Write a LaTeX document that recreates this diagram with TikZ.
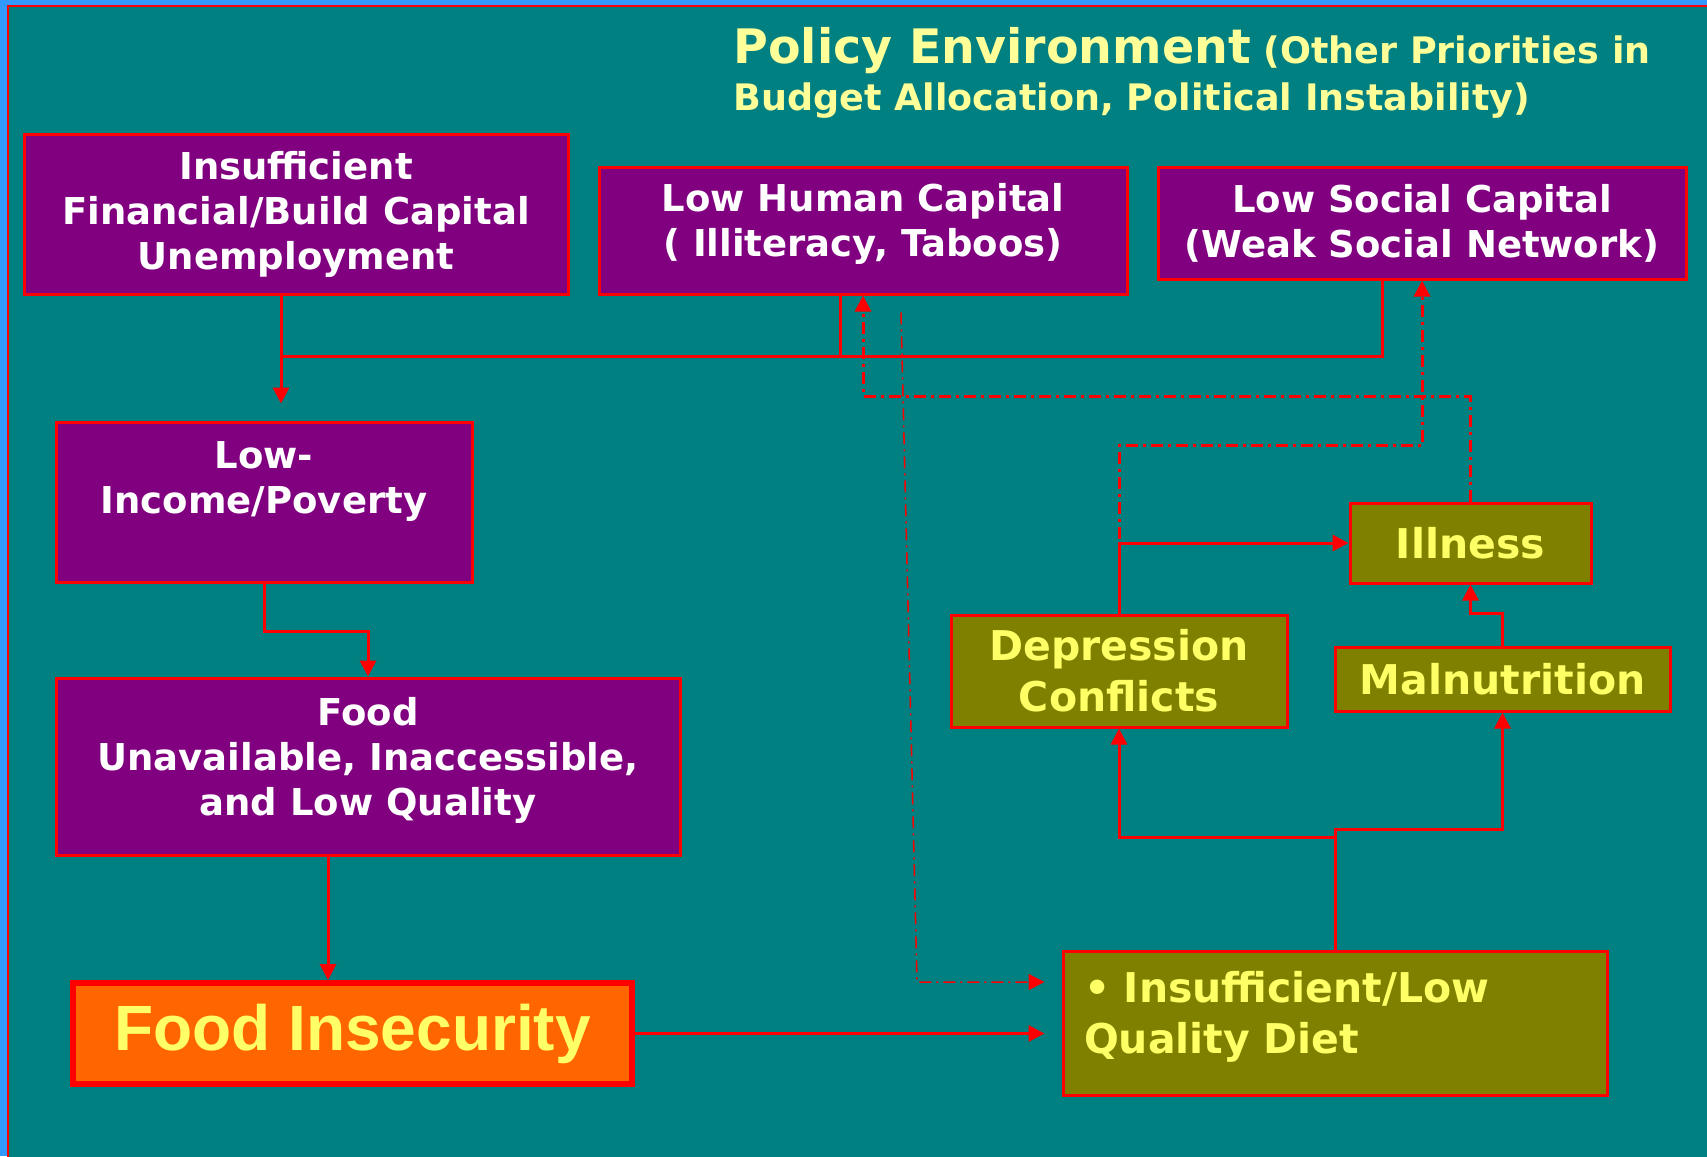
\documentclass[tikz,border=0pt]{standalone}
\usepackage{fontspec}
\setmainfont{DejaVu Sans}
\newfontfamily\arialfont{Liberation Sans}
\usetikzlibrary{arrows.meta}

\definecolor{slideblue}{HTML}{3399FF}
\definecolor{slideteal}{HTML}{008080}
\definecolor{boxpurple}{HTML}{800080}
\definecolor{boxolive}{HTML}{808000}
\definecolor{boxorange}{HTML}{FF6600}
\definecolor{titleyellow}{HTML}{FFFF99}
\definecolor{textyellow}{HTML}{FFFF66}

\begin{document}
\begin{tikzpicture}[x=1pt, y=-1pt,
                    box/.style={draw=red, line width=3pt, inner sep=0pt, align=center},
                    purplebox/.style={box, fill=boxpurple, text=white,
                                      font=\bfseries\fontsize{37}{45}\selectfont},
                    olivebox/.style={box, fill=boxolive, text=textyellow,
                                     font=\bfseries\fontsize{41}{51}\selectfont},
                    conn/.style={draw=red, line width=3pt, -{Triangle[length=16pt,width=16pt]}},
                    plainconn/.style={draw=red, line width=3pt},
                    dashconn/.style={conn, dash pattern=on 12pt off 5pt on 3pt off 5pt},
                    thinconn/.style={conn, line width=1.5pt, dash pattern=on 12pt off 5pt on 2pt off 5pt}]
  \useasboundingbox (0,0) rectangle (1707,1156);
  \fill[slideblue] (0,0) rectangle (1707,1156);
  \filldraw[fill=slideteal, draw=red, line width=2pt] (8,6) rectangle (1720,1170);

  % title
  \node[anchor=base west, align=left, text=titleyellow,
        font=\bfseries\fontsize{36.5}{47}\selectfont] (title) at (730,110)
    {{\fontsize{47.5}{47}\selectfont Policy Environment} (Other Priorities in\\Budget Allocation, Political Instability)};

  % causes
  \node[purplebox, minimum width=544, minimum height=160] (finance) at (296,214)
    {Insufficient\\Financial/Build Capital\\Unemployment};
  \node[purplebox, minimum width=528, minimum height=127] (human) at (863,230.5)
    {Low Human Capital\\( Illiteracy, Taboos)\\[-24pt]\mbox{}};
  \node[purplebox, minimum width=528, minimum height=112] (social) at (1422,223)
    {Low Social Capital\\(Weak Social Network)};
  \node[purplebox, minimum width=416, minimum height=160] (income) at (264,502)
    {Low-\\Income/Poverty\\[4pt]\mbox{}};
  \node[purplebox, minimum width=624, minimum height=177] (food) at (368,766.5)
    {Food\\Unavailable, Inaccessible,\\and Low Quality\\[-24pt]\mbox{}};
  \node[box, line width=6pt, fill=boxorange, text=textyellow, minimum width=559, minimum height=101,
        font=\arialfont\bfseries\fontsize{64}{70}\selectfont] (insecurity) at (352.5,1033.5)
    {Food Insecurity};

  % consequences
  \node[olivebox, minimum width=544, minimum height=144, text width=502, align=left, inner xsep=21pt] (diet) at (1335,1023)
    {• Insufficient/Low\\Quality Diet\\[-30pt]\mbox{}};
  \node[olivebox, minimum width=336, minimum height=112] (depression) at (1119,671)
    {Depression\\Conflicts};
  \node[olivebox, minimum width=335, minimum height=64] (malnutrition) at (1502.5,679)
    {Malnutrition};
  \node[olivebox, minimum width=241, minimum height=80] (illness) at (1470.5,543)
    {Illness};

  % solid links
  \coordinate (jn) at (281,356);
  \coordinate (fb) at ([xshift=-40pt]food.south);
  \draw[plainconn] ([xshift=-40pt]social.south) |- (jn);
  \draw[plainconn] ([xshift=-23pt]human.south) -- ++(0,62);
  \draw[conn] ([xshift=-15pt]finance.south) -- ([yshift=17pt]income.north -| jn);
  \draw[conn] (income.south) -- ++(0,48) -| (food.north);
  \draw[conn] (fb) -- (fb |- insecurity.north);
  \draw[conn, shorten >=17pt] (insecurity.east) -- (insecurity.east -| diet.west);
  \draw[conn] (diet.north) -- ++(0,-112) -| (depression.south);
  \draw[conn] (diet.north) -- ++(0,-120) -| (malnutrition.south);
  \draw[conn] (malnutrition.north) -- ++(0,-32) -| (illness.south);
  \draw[conn] (depression.north) |- (illness.west);

  % dash-dot links
  \coordinate (dd) at (917,982);
  \draw[thinconn, shorten >=17pt] ([xshift=38pt,yshift=-17pt]human.south) -- (dd) -- (dd -| diet.west);
  \draw[dashconn] (illness.north) -- ++(0,-105) -| (human.south);
  \draw[dashconn] (depression.north) -- ++(0,-168) -| (social.south);
\end{tikzpicture}
\end{document}
